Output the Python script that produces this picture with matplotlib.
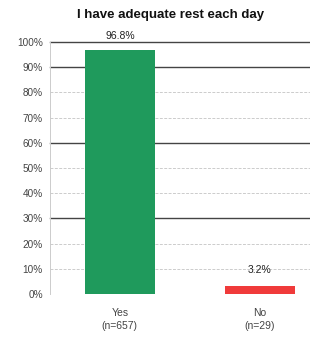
import matplotlib
matplotlib.use("Agg")
import matplotlib.pyplot as plt

categories = ["Yes\n(n=657)", "No\n(n=29)"]
values = [96.8, 3.2]
value_labels = ["96.8%", "3.2%"]
colors = ["#1f9a5c", "#f03a3a"]
yticks = [0, 10, 20, 30, 40, 50, 60, 70, 80, 90, 100]
dark_lines = [30, 60, 90, 100]

plt.rcParams['font.family'] = ['Liberation Sans', 'DejaVu Sans']
fig = plt.figure(figsize=(3.10, 3.37), dpi=100)
ax = fig.add_axes([0.161, 0.1276, 0.839, 0.7474])

x = list(range(len(categories)))
ax.bar(x, values, width=0.5, color=colors, zorder=3)
for xi, v, lab in zip(x, values, value_labels):
    off = 3.6 if v > 50 else 4.5
    ax.text(xi, v + off, lab, ha='center', va='bottom', fontsize=7.5, color='#222222',
            clip_on=False)

ax.set_xlim(-0.5, 1.36)
ax.set_ylim(0, 100)
ax.set_yticks(yticks)
ax.set_yticklabels([f"{t}%" for t in yticks], fontsize=7.2, color='#444444')
for t in yticks:
    if t in dark_lines:
        ax.axhline(t, color='#444444', lw=1.0, zorder=1, clip_on=False)
    else:
        ax.axhline(t, color='#cccccc', lw=0.7, ls=(0, (3, 1.5)), zorder=1)
ax.set_xticks(x)
ax.set_xticklabels(categories, fontsize=7.5, color='#444444', linespacing=1.4)
ax.tick_params(axis='both', length=0, pad=5)
ax.tick_params(axis='x', pad=10)
for s in ['top', 'right', 'bottom']:
    ax.spines[s].set_visible(False)
ax.spines['left'].set_color('#cccccc')
ax.spines['left'].set_linewidth(0.7)

fig.text(0.55, 0.955, "I have adequate rest each day", ha='center', va='center',
         fontsize=9.5, fontweight='bold', color='#111111')

fig.savefig("out.png", dpi=100, facecolor='white')
